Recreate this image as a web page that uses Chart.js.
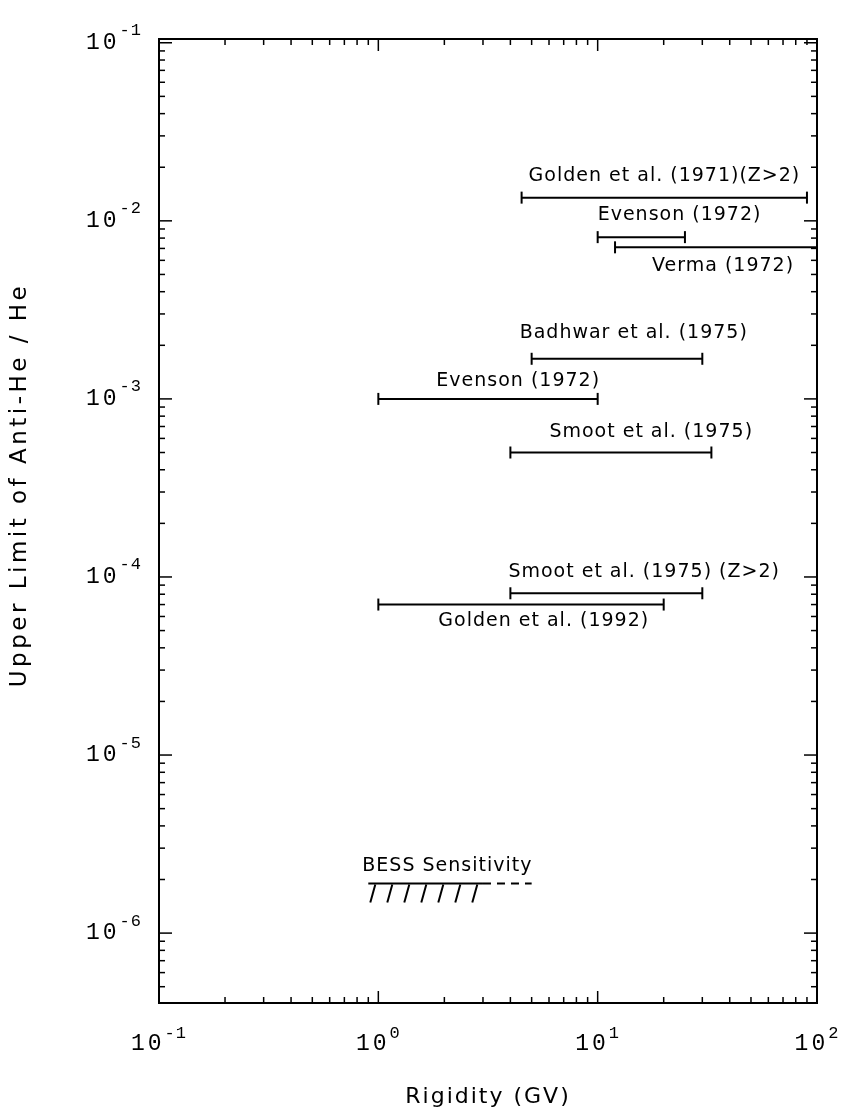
<!DOCTYPE html>
<html lang="en">
<head>
<meta charset="UTF-8">
<title>Anti-He / He upper limits</title>
<script src="https://cdn.jsdelivr.net/npm/chart.js"></script>
<style>
  html, body { margin: 0; padding: 0; background: #fff; }
  #wrap { width: 841px; height: 1113px; position: relative; }
</style>
</head>
<body>
<div id="wrap"><canvas id="myChart"></canvas></div>
<script>
// measurements: rigidity range (GV) and upper limit of anti-He / He
var experiments = ['Golden et al. (1971)(Z>2)', 'Evenson (1972)', 'Verma (1972)', 'Badhwar et al. (1975)',
                   'Evenson (1972)', 'Smoot et al. (1975)', 'Smoot et al. (1975) (Z>2)', 'Golden et al. (1992)'];
var rigidityLow  = [4.5, 10, 12, 5, 1, 4, 4, 1];
var rigidityHigh = [90, 25, 100, 30, 10, 33, 30, 20];
var upperLimit   = [1.35e-2, 8.1e-3, 7.1e-3, 1.68e-3, 1.0e-3, 5.0e-4, 8.1e-5, 7.0e-5];

// expected BESS sensitivity (solid part + dashed extension)
var bessLabel = 'BESS Sensitivity';
var bessLevel = 1.9e-6;
var bessRange = [0.9, 3.0];
var bessExtension = [3.0, 5.0];

// axes
var xDecades = [-1, 0, 1, 2];
var yDecades = [-6, -5, -4, -3, -2, -1];
var xTitle = 'Rigidity (GV)';
var yTitle = 'Upper Limit of Anti-He / He';

// where each label sits, in px from the left end of its bar [dx, dy]
var labelOffsets = [[7, -22], [0, -22], [37, 19], [-12, -26], [58, -18], [39, -20], [-2, -21], [60, 17]];

var datasets = experiments.map(function (name, i) {
    return {
        label: name,
        data: [{ x: rigidityLow[i], y: upperLimit[i] }, { x: rigidityHigh[i], y: upperLimit[i] }],
        borderColor: '#000',
        borderWidth: 2,
        pointStyle: 'line',
        pointRotation: 90,
        pointRadius: function (c) { return c.raw && c.raw.x >= 100 ? 0 : 6; },
        pointBorderWidth: 2,
        pointBorderColor: '#000'
    };
});
datasets.push({
    label: bessLabel,
    data: [{ x: bessRange[0], y: bessLevel }, { x: bessRange[1], y: bessLevel }],
    borderColor: '#000', borderWidth: 2, pointRadius: 0
});
datasets.push({
    label: bessLabel + ' (ext)',
    data: [{ x: bessExtension[0], y: bessLevel }, { x: bessExtension[1], y: bessLevel }],
    borderColor: '#000', borderWidth: 2, borderDash: [8, 6], pointRadius: 0
});

function logTicks(scale, decades) {
    var out = [];
    decades.concat([decades[0] - 1]).forEach(function (d) {
        for (var m = 1; m <= 9; m++) {
            var v = m * Math.pow(10, d);
            if (v >= scale.min * 0.999 && v <= scale.max * 1.001) out.push({ v: v, major: m === 1 });
        }
    });
    return out;
}

function seg(ctx, x1, y1, x2, y2) {
    ctx.beginPath(); ctx.moveTo(x1, y1); ctx.lineTo(x2, y2); ctx.stroke();
}

var decor = {
    id: 'decor',
    afterDraw: function (chart) {
        var ctx = chart.ctx, a = chart.chartArea, xs = chart.scales.x, ys = chart.scales.y;
        ctx.save();
        ctx.strokeStyle = '#000';
        ctx.fillStyle = '#000';

        // frame
        ctx.lineWidth = 2;
        ctx.strokeRect(a.left, a.top, a.right - a.left, a.bottom - a.top);

        // inward ticks on all four sides
        ctx.lineWidth = 1.5;
        logTicks(xs, xDecades).forEach(function (t) {
            var px = xs.getPixelForValue(t.v), len = t.major ? 12 : 6;
            seg(ctx, px, a.bottom, px, a.bottom - len);
            seg(ctx, px, a.top, px, a.top + len);
        });
        logTicks(ys, yDecades).forEach(function (t) {
            var py = ys.getPixelForValue(t.v), len = t.major ? 13 : 6;
            seg(ctx, a.left, py, a.left + len, py);
            seg(ctx, a.right, py, a.right - len, py);
        });

        // tick labels 10^n
        var baseFont = '23px "Liberation Mono"', expFont = '17px "Liberation Mono"';
        ctx.textBaseline = 'middle';
        ctx.textAlign = 'left';
        function measure(txt, font, sp) {
            ctx.font = font; ctx.letterSpacing = sp;
            return ctx.measureText(txt).width;
        }
        xDecades.forEach(function (d) {
            var px = xs.getPixelForValue(Math.pow(10, d));
            var e = String(d);
            var wb = measure('10', baseFont, '3px'), we = measure(e, expFont, '1px');
            var x0 = px - (wb + we) / 2;
            ctx.font = baseFont; ctx.letterSpacing = '3px';
            ctx.fillText('10', x0, a.bottom + 41);
            ctx.font = expFont; ctx.letterSpacing = '1px';
            ctx.fillText(e, x0 + wb, a.bottom + 30);
        });
        yDecades.forEach(function (d) {
            var py = ys.getPixelForValue(Math.pow(10, d));
            var e = String(d);
            var wb = measure('10', baseFont, '3px'), we = measure(e, expFont, '1px');
            var xr = a.left - 17;
            ctx.font = baseFont; ctx.letterSpacing = '3px';
            ctx.fillText('10', xr - we - wb, py);
            ctx.font = expFont; ctx.letterSpacing = '1px';
            ctx.fillText(e, xr - we, py - 12);
        });

        // axis titles
        ctx.font = '22px "DejaVu Sans"';
        ctx.letterSpacing = '2px';
        ctx.textAlign = 'center';
        ctx.fillText(xTitle, (a.left + a.right) / 2, a.bottom + 94);
        ctx.save();
        ctx.translate(20, 485);
        ctx.rotate(-Math.PI / 2);
        ctx.font = '23px "DejaVu Sans"';
        ctx.letterSpacing = '3.5px';
        ctx.fillText(yTitle, 0, 0);
        ctx.restore();

        // bar labels
        ctx.font = '19px "DejaVu Sans"';
        ctx.letterSpacing = '1px';
        ctx.textAlign = 'left';
        experiments.forEach(function (name, i) {
            var px = xs.getPixelForValue(rigidityLow[i]), py = ys.getPixelForValue(upperLimit[i]);
            ctx.fillText(name, px + labelOffsets[i][0], py + labelOffsets[i][1]);
        });

        // BESS label and hatching under the solid part
        var bx0 = xs.getPixelForValue(bessRange[0]), bx1 = xs.getPixelForValue(bessRange[1]);
        var by = ys.getPixelForValue(bessLevel);
        ctx.fillText(bessLabel, bx0 - 6, by - 17);
        ctx.lineWidth = 2;
        for (var hx = bx0 + 7; hx <= bx1 + 1; hx += 17) {
            seg(ctx, hx, by + 1, hx - 5, by + 19);
        }
        ctx.restore();
    }
};

var ctx = document.getElementById('myChart').getContext('2d');
var myChart = new Chart(ctx, {
    type: 'line',
    data: { datasets: datasets },
    options: {
        responsive: true,
        maintainAspectRatio: false,
        animation: false,
        layout: { padding: { left: 159, right: 24, top: 39, bottom: 110 } },
        plugins: { legend: { display: false }, tooltip: { enabled: false } },
        scales: {
            x: {
                type: 'logarithmic', min: 0.1, max: 100,
                ticks: { display: false },
                grid: { display: false, drawTicks: false },
                border: { display: false }
            },
            y: {
                type: 'logarithmic', min: 4.05e-7, max: 0.105,
                ticks: { display: false },
                grid: { display: false, drawTicks: false },
                border: { display: false }
            }
        }
    },
    plugins: [decor]
});
</script>
</body>
</html>
